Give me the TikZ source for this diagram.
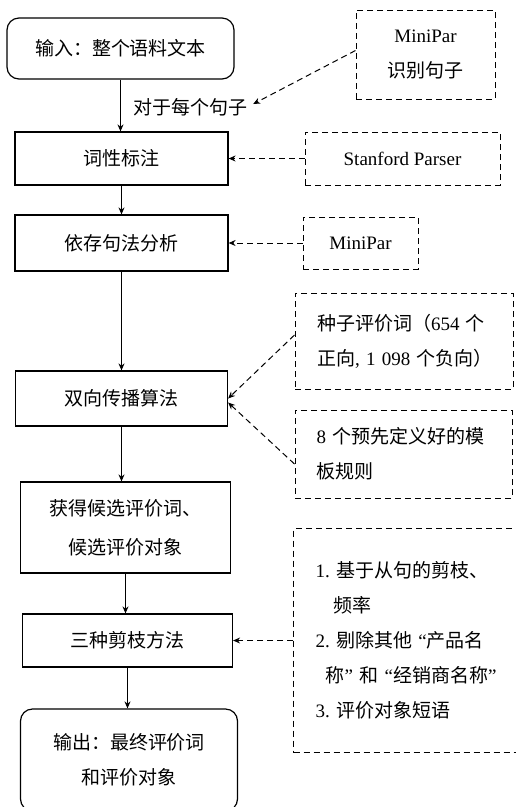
\documentclass[tikz,border=0pt]{standalone}
\usepackage{fontspec}
\setmainfont{Noto Sans CJK SC}
\newfontfamily\lat{Liberation Serif}
\usetikzlibrary{arrows.meta}
\tikzset{every node/.style={shape=rectangle, draw=black, align=center, inner sep=0pt, font=\fontsize{19}{35}\selectfont}}
\tikzset{every edge/.style={draw=black, line width=1.2pt, -{Stealth[length=7pt,width=6pt]}}}
\tikzset{proc/.style={line width=1.2pt}}
\tikzset{term/.style={line width=1.2pt, rounded corners=12pt}}
\tikzset{tool/.style={line width=1pt, dash pattern=on 6pt off 4pt}}

\begin{document}
\begin{tikzpicture}[node distance = 110pt]
  \useasboundingbox (0,0) rectangle (515pt,-807pt);

  \node (in) [term, minimum width=227pt, minimum height=61pt] at (120.5pt,-48.5pt) {输入：整个语料文本};
  \node (pos) [proc, minimum width=213pt, minimum height=53pt, below of = in, xshift=1pt] {词性标注};
  \node (dep) [proc, minimum width=213pt, minimum height=56pt, node distance=84.5pt, below of = pos] {依存句法分析};
  \node (bp) [proc, minimum width=212pt, minimum height=55pt, node distance=155.5pt, below of = dep] {双向传播算法};
  \node (cand) [proc, minimum width=210pt, minimum height=91pt, node distance=129pt, below of = bp, xshift=4pt] {获得候选评价词、\\[4pt]候选评价对象};
  \node (prune) [proc, minimum width=210pt, minimum height=53pt, node distance=113pt, below of = cand, xshift=2pt] {三种剪枝方法};
  \node (out) [term, minimum width=217pt, minimum height=102pt, node distance=119.5pt, below of = prune, xshift=1.5pt] {输出：最终评价词\\和评价对象};

  \node (each) [draw=none, inner sep=6pt, node distance=58.5pt, below of = in, xshift=69.5pt] {对于每个句子};
  \node (mp1) [tool, minimum width=139pt, minimum height=89pt, node distance=305pt, right of = in, yshift=-6pt] {{\lat MiniPar}\\识别句子};
  \node (sp) [tool, minimum width=195pt, minimum height=53pt, node distance=281pt, right of = pos] {\lat Stanford Parser};
  \node (mp2) [tool, minimum width=115pt, minimum height=52pt, node distance=239pt, right of = dep] {\lat MiniPar};
  \node (seed) [tool, minimum width=218pt, minimum height=96pt, text width=174pt, align=left, node distance=282.5pt, right of = bp, yshift=57.5pt] {种子评价词（{\lat 654}~个\\正向{\lat ,~1~098}~个负向）};
  \node (rule) [tool, minimum width=217pt, minimum height=88pt, text width=174pt, align=left, node distance=282pt, right of = bp, yshift=-55.5pt] {{\lat 8}~个预先定义好的模\\板规则};
  \node (prn) [tool, minimum width=232pt, minimum height=224pt, text width=188pt, align=left, node distance=282pt, right of = prune] {{\lat 1.}~基于从句的剪枝、\\
    \hspace*{18pt}频率\\
    {\lat 2.}~剔除其他~{\lat “}产品名\\
    \hspace*{10pt}称{\lat ”}~和~{\lat “}经销商名称{\lat ”}\\
    {\lat 3.}~评价对象短语};

  \path (in) edge (in |- pos.north);
  \path (pos) edge (pos |- dep.north);
  \path (dep) edge (dep |- bp.north);
  \path (bp) edge (bp |- cand.north);
  \path (cand) edge (cand |- prune.north);
  \path (prune) edge (prune |- out.north);

  \path ([yshift=4pt]mp1.west) edge[tool] ([yshift=3pt]each.east);
  \path (sp) edge[tool] (pos);
  \path (mp2) edge[tool] (dep);
  \path ([yshift=6pt]seed.west) edge[tool] (bp.east);
  \path ([yshift=-10pt]rule.west) edge[tool] ([yshift=-4pt]bp.east);
  \path (prn) edge[tool] (prune);
\end{tikzpicture}
\end{document}
